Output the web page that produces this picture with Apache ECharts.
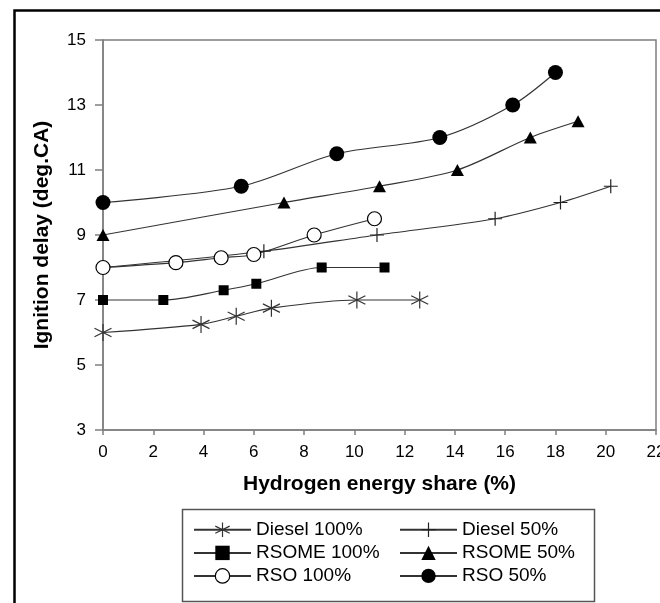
<!DOCTYPE html>
<html>
<head>
<meta charset="utf-8">
<script src="https://cdn.jsdelivr.net/npm/echarts@6/dist/echarts.min.js"></script>
<style>
  html, body { margin: 0; padding: 0; background: #fff; }
  #chart { width: 660px; height: 603px; }
</style>
</head>
<body>
<div id="chart"></div>
<script>
// ---- data ----
const xTicks = [0, 2, 4, 6, 8, 10, 12, 14, 16, 18, 20, 22];
const yTicks = [3, 5, 7, 9, 11, 13, 15];

const seriesNames = ['Diesel 100%', 'Diesel 50%', 'RSOME 100%', 'RSOME 50%', 'RSO 100%', 'RSO 50%'];

const diesel100X = [0, 3.9, 5.3, 6.7, 10.1, 12.6];
const diesel100Y = [6, 6.25, 6.5, 6.75, 7, 7];

const diesel50X = [0, 6.4, 10.9, 15.6, 18.2, 20.2];
const diesel50Y = [8, 8.5, 9, 9.5, 10, 10.5];

const rsome100X = [0, 2.4, 4.8, 6.1, 8.7, 11.2];
const rsome100Y = [7, 7, 7.3, 7.5, 8, 8];

const rsome50X = [0, 7.2, 11.0, 14.1, 17.0, 18.9];
const rsome50Y = [9, 10, 10.5, 11, 12, 12.5];

const rso100X = [0, 2.9, 4.7, 6.0, 8.4, 10.8];
const rso100Y = [8, 8.15, 8.3, 8.4, 9, 9.5];

const rso50X = [0, 5.5, 9.3, 13.4, 16.3, 18.0];
const rso50Y = [10, 10.5, 11.5, 12, 13, 14];

// ---- chart ----
const FONT = '"Liberation Sans", Arial, sans-serif';
const LINE = '#333333';
const AXIS = '#7f7f7f';
const pair = (xs, ys) => xs.map((x, i) => [x, ys[i]]);

const ASTERISK = 'path://M10 0 L10 20 M1.34 5 L18.66 15 M1.34 15 L18.66 5';
const PLUS = 'path://M10 0 L10 20 M0 10 L20 10';

function mk(name, xs, ys, symbol, size, itemStyle) {
  return {
    name: name,
    type: 'line',
    data: pair(xs, ys),
    smooth: 0.3,
    clip: false,
    symbol: symbol,
    symbolSize: size,
    showAllSymbol: true,
    lineStyle: { color: LINE, width: 1.2 },
    itemStyle: itemStyle,
    emphasis: { disabled: true },
    z: 3
  };
}

const series = [
  mk(seriesNames[0], diesel100X, diesel100Y, ASTERISK, 17, { color: 'none', borderColor: '#333', borderWidth: 1.2 }),
  mk(seriesNames[1], diesel50X, diesel50Y, PLUS, 14, { color: 'none', borderColor: '#222', borderWidth: 1.2 }),
  mk(seriesNames[2], rsome100X, rsome100Y, 'rect', 10, { color: '#000', borderColor: '#000', borderWidth: 0 }),
  mk(seriesNames[3], rsome50X, rsome50Y, 'triangle', [13, 12], { color: '#000', borderColor: '#000', borderWidth: 0 }),
  mk(seriesNames[4], rso100X, rso100Y, 'circle', 14, { color: '#fff', borderColor: '#000', borderWidth: 1.2 }),
  mk(seriesNames[5], rso50X, rso50Y, 'circle', 15, { color: '#000', borderColor: '#000', borderWidth: 0 })
];

const legendCommon = {
  orient: 'vertical',
  top: 520,
  padding: 0,
  itemWidth: 57,
  itemHeight: 18,
  itemGap: 4,
  selectedMode: false,
  textStyle: { fontFamily: FONT, fontSize: 19, color: '#000', lineHeight: 19 }
};

const option = {
  animation: false,
  backgroundColor: '#fff',
  grid: {
    left: 103, right: 4, top: 40, bottom: 173,
    outerBoundsMode: 'none', containLabel: false,
    show: true, borderColor: AXIS, borderWidth: 1.5, backgroundColor: 'transparent'
  },
  xAxis: {
    type: 'value', min: 0, max: 22, interval: 2,
    name: 'Hydrogen energy share (%)', nameLocation: 'middle', nameGap: 44,
    nameTextStyle: { fontFamily: FONT, fontSize: 21, fontWeight: 'bold', color: '#000' },
    axisLine: { show: true, onZero: false, lineStyle: { color: AXIS, width: 1.5 } },
    axisTick: { show: true, length: 5, lineStyle: { color: AXIS, width: 1.5 } },
    axisLabel: { margin: 14, fontFamily: FONT, fontSize: 17, color: '#000', showMaxLabel: true, showMinLabel: true, hideOverlap: false },
    splitLine: { show: false }
  },
  yAxis: {
    type: 'value', min: 3, max: 15, interval: 2,
    name: 'Ignition delay (deg.CA)', nameLocation: 'middle', nameGap: 50, nameRotate: 90,
    nameTextStyle: { fontFamily: FONT, fontSize: 21, fontWeight: 'bold', color: '#000' },
    axisLine: { show: true, onZero: false, lineStyle: { color: AXIS, width: 1.5 } },
    axisTick: { show: true, length: 8, lineStyle: { color: AXIS, width: 1.5 } },
    axisLabel: { margin: 17, fontFamily: FONT, fontSize: 17, color: '#000' },
    splitLine: { show: false }
  },
  legend: [
    Object.assign({}, legendCommon, {
      left: 193,
      data: [
        { name: seriesNames[0], itemStyle: { color: 'none', borderColor: '#333', borderWidth: 1.2 } },
        { name: seriesNames[2] },
        { name: seriesNames[4], itemStyle: { color: '#fff', borderColor: '#000', borderWidth: 1.2 } }
      ]
    }),
    Object.assign({}, legendCommon, {
      left: 399,
      data: [
        { name: seriesNames[1], itemStyle: { color: 'none', borderColor: '#222', borderWidth: 1.2 } },
        { name: seriesNames[3] },
        { name: seriesNames[5] }
      ]
    })
  ],
  graphic: [
    { type: 'rect', left: 12, top: 8, shape: { width: 700, height: 700 }, style: { fill: 'none', stroke: '#000', lineWidth: 2.5 }, silent: true },
    { type: 'rect', left: 180, top: 507, shape: { width: 412, height: 92 }, style: { fill: 'none', stroke: '#555', lineWidth: 1.5 }, silent: true }
  ],
  series: series
};

const chart = echarts.init(document.getElementById('chart'), null, { renderer: 'canvas' });
chart.setOption(option);
</script>
</body>
</html>
